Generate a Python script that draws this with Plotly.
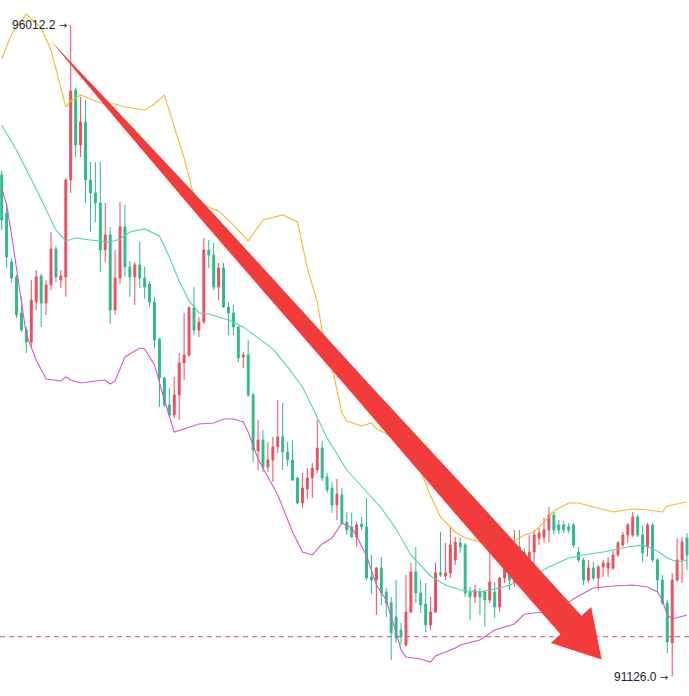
import plotly.graph_objects as go

W, H = 689, 696

# ---- candle data (price) ----
open_ = [
    94888, 94603, 94235, 94123, 93853, 93725, 93635, 93935, 94130, 93928,
    94063, 94333, 94100, 94123, 94850, 95525, 95113, 95285, 94850, 94753,
    94678, 94325, 94438, 93875, 94115, 94498, 94198, 94123, 94213, 94115,
    94070, 93935, 93658, 93365, 93163, 93088, 93238, 93478, 93538, 93890,
    93725, 93785, 94325, 94288, 94048, 94190, 93898, 93853, 93748, 93523,
    93538, 93238, 92818, 92900, 92698, 92750, 92848, 92923, 92810, 92750,
    92615, 92428, 92533, 92615, 92675, 92840, 92623, 92540, 92413, 92488,
    92285, 92248, 92173, 92270, 92248, 91873, 91850, 91940, 91760, 91678,
    91573, 91475, 91363, 91610, 91910, 91753, 91670, 91513, 91610, 91903,
    91880, 91903, 92000, 92128, 92113, 91760, 91723, 91760, 91760, 91700,
    91760, 91648, 91865, 91888, 91835, 92098, 92060, 91948, 92060, 92165,
    92173, 92225, 92338, 92263, 92263, 92248, 92263, 92060, 92000, 91850,
    91940, 91865, 91948, 91940, 91940, 92038, 92113, 92188, 92188, 92323,
    92188, 92098, 92263, 92000, 91850, 91678, 91378, 91850, 92000, 92165,
]
high = [
    94918, 94678, 94265, 94138, 93973, 93748, 94100, 94175, 94145, 94100,
    94460, 94355, 94175, 94865, 96012.2, 95540, 95473, 95450, 94985, 94985,
    94985, 94678, 94498, 94325, 94685, 94663, 94243, 94235, 94385, 94198,
    94093, 93973, 93665, 93373, 93290, 93373, 93553, 93853, 93905, 94048,
    93823, 94415, 94400, 94378, 94228, 94228, 93935, 93913, 93755, 93560,
    93650, 93253, 93050, 92975, 92885, 92923, 93200, 93178, 92885, 92900,
    92623, 92653, 92690, 92728, 93050, 92893, 92653, 92585, 92608, 92540,
    92360, 92353, 92285, 92323, 92465, 92038, 91948, 92023, 91790, 91723,
    91850, 91528, 91888, 91978, 92098, 91850, 91828, 91723, 91978, 92210,
    92128, 92248, 92173, 92173, 92128, 91798, 91813, 91790, 91775, 92053,
    91835, 91873, 92023, 91925, 92225, 92225, 92090, 92188, 92225, 92240,
    92315, 92398, 92360, 92300, 92293, 92278, 92278, 92098, 92015, 92000,
    91985, 91963, 92000, 92023, 92075, 92143, 92210, 92278, 92360, 92338,
    92263, 92278, 92278, 92015, 91888, 91700, 91903, 92165, 92173, 92203,
]
low = [
    94475, 94190, 94078, 93815, 93710, 93553, 93598, 93875, 93748, 93838,
    94025, 94085, 94040, 93973, 94753, 95023, 95023, 94678, 94460, 94535,
    94160, 94235, 93770, 93838, 94070, 94123, 93973, 93913, 94040, 93958,
    93898, 93590, 93148, 93148, 93073, 93065, 93050, 93350, 93523, 93688,
    93673, 93770, 94190, 94025, 93950, 93890, 93688, 93688, 93485, 93440,
    93223, 92735, 92675, 92660, 92660, 92585, 92803, 92675, 92705, 92593,
    92420, 92390, 92458, 92465, 92653, 92593, 92503, 92353, 92300, 92263,
    92188, 92165, 92098, 92225, 91850, 91745, 91588, 91663, 91573, 91250,
    91378, 91363, 91348, 91603, 91678, 91603, 91460, 91475, 91603, 91873,
    91850, 91865, 91963, 92053, 91723, 91550, 91678, 91588, 91498, 91678,
    91565, 91610, 91828, 91775, 91798, 91963, 92000, 91888, 91948, 92113,
    92128, 92135, 92188, 92195, 92203, 92203, 92090, 91985, 91813, 91828,
    91850, 91775, 91873, 91873, 91925, 92023, 92098, 92128, 92173, 92173,
    91985, 92023, 91985, 91760, 91663, 91303, 91126.0, 91835, 91828, 91925,
]
close = [
    94550, 94273, 94115, 93838, 93725, 93635, 93950, 94123, 93928, 94063,
    94333, 94123, 94130, 94850, 95518, 95113, 95285, 94850, 94753, 94678,
    94325, 94438, 93875, 94115, 94498, 94198, 94123, 94213, 94115, 94048,
    93935, 93650, 93365, 93163, 93088, 93238, 93478, 93538, 93890, 93725,
    93785, 94325, 94288, 94048, 94190, 93898, 93853, 93748, 93515, 93538,
    93238, 92825, 92900, 92698, 92750, 92848, 92923, 92810, 92750, 92600,
    92428, 92540, 92615, 92690, 92840, 92615, 92525, 92413, 92495, 92278,
    92225, 92173, 92263, 92248, 91865, 91850, 91940, 91753, 91678, 91453,
    91415, 91423, 91610, 91910, 91753, 91663, 91513, 91610, 91903, 91888,
    91903, 92113, 92135, 92098, 91753, 91723, 91775, 91723, 91700, 91835,
    91648, 91865, 91940, 91850, 92098, 92023, 92023, 92060, 92188, 92203,
    92225, 92338, 92225, 92225, 92225, 92225, 92113, 92000, 91850, 91940,
    91865, 91948, 91978, 91978, 92038, 92128, 92188, 92263, 92323, 92188,
    92053, 92263, 92000, 91850, 91678, 91385, 91850, 92000, 92135, 92038,
]
candle_idx = list(range(len(close)))

# ---- Bollinger band readings (candle index, price) ----
upper_idx = [0, 2, 5, 8, 10, 12, 13, 14, 16, 20, 23, 25, 29, 31, 33, 35, 37, 39, 41, 44,
             47, 50, 53, 57, 60, 62, 64, 65, 67, 69, 70, 73, 75, 76, 79, 82, 85, 87, 89, 92,
             94, 97, 101, 104, 106, 108, 110, 112, 115, 117, 120, 124, 128, 131, 134, 135, 139]
upper_val = [95758, 95945, 96095, 95990, 95825, 95525, 95398, 95443, 95488, 95428,
             95420, 95398, 95375, 95420, 95488, 95248, 95015, 94730, 94663, 94618,
             94513, 94393, 94550, 94588, 94535, 94190, 93935, 93725, 93448, 93103,
             93043, 93005, 93028, 92983, 92930, 92810, 92668, 92480, 92323, 92210,
             92165, 92135, 92128, 92143, 92188, 92210, 92285, 92368, 92428, 92428,
             92398, 92360, 92383, 92375, 92360, 92405, 92435]

mid_idx = [0, 3, 7, 11, 13, 15, 18, 22, 24, 26, 29, 32, 34, 36, 38, 40, 42, 44, 46, 49,
           52, 55, 58, 61, 63, 66, 70, 73, 77, 80, 83, 87, 90, 93, 97, 101, 103, 107, 111,
           115, 118, 122, 127, 130, 133, 135, 137, 139]
mid_val = [95263, 95075, 94783, 94475, 94393, 94415, 94400, 94385, 94408, 94460,
           94483, 94430, 94273, 94093, 93943, 93853, 93845, 93823, 93800, 93748,
           93665, 93583, 93448, 93298, 93148, 92915, 92675, 92555, 92390, 92233,
           92038, 91880, 91813, 91775, 91760, 91790, 91813, 91873, 91948, 92015,
           92038, 92060, 92098, 92113, 92068, 92015, 91985, 92000]

lower_idx = [0, 1, 2, 4, 5, 7, 9, 12, 13, 14, 16, 19, 21, 22, 23, 25, 28, 29, 31, 33,
             35, 37, 40, 43, 45, 47, 49, 50, 52, 56, 59, 61, 63, 65, 67, 69, 71, 72, 74, 76,
             78, 79, 80, 81, 82, 85, 87, 88, 92, 93, 97, 100, 102, 104, 106, 110, 114, 117,
             120, 124, 128, 131, 133, 134, 135, 136, 139]
lower_val = [94790, 94663, 94438, 93935, 93688, 93500, 93358, 93343, 93373, 93350,
             93328, 93343, 93350, 93320, 93343, 93523, 93590, 93583, 93463, 93200,
             92960, 92983, 93020, 93028, 93058, 93058, 93035, 92960, 92758, 92488,
             92210, 92060, 92038, 92120, 92165, 92278, 92240, 92180, 92030, 91813,
             91700, 91573, 91460, 91325, 91273, 91258, 91235, 91280, 91340, 91363,
             91400, 91475, 91498, 91520, 91595, 91610, 91663, 91730, 91790, 91805,
             91813, 91798, 91760, 91700, 91588, 91558, 91588]

current_price = 91425
hi_label = ("96012.2", 14, 96012.2)
lo_label = ("91126.0", 136, 91126.0)

RED = "#EC4E5D"
GREEN = "#2EBB8B"

fig = go.Figure()
fig.add_trace(go.Candlestick(
    x=candle_idx, open=open_, high=high, low=low, close=close,
    increasing=dict(line=dict(color=RED, width=1), fillcolor=RED),
    decreasing=dict(line=dict(color=GREEN, width=1), fillcolor=GREEN),
    whiskerwidth=0, hoverinfo="skip", showlegend=False,
))
for xs, ys, col in [(upper_idx, upper_val, "#F4BA2C"),
                    (mid_idx, mid_val, "#4FD3B1"),
                    (lower_idx, lower_val, "#D457C9")]:
    fig.add_trace(go.Scatter(x=xs, y=ys, mode="lines",
                             line=dict(color=col, width=1.1),
                             hoverinfo="skip", showlegend=False))


def P(px, py):
    return px / W, 1 - py / H


arrow_px = [(50, 40), (114.7, 108.2), (211.2, 211.2), (369.7, 384.7), (476.1, 499.7),
            (581.5, 615.7), (591.2, 607), (601.6, 659.4), (550.8, 643), (560.5, 634.3),
            (457.5, 516.3), (355.5, 397.3), (201.4, 219.8), (110.3, 112.2)]
path = "M " + " L ".join("%.5f,%.5f" % P(a, b) for a, b in arrow_px) + " Z"

ARROW_GLYPH = " <span style='font-family:DejaVu Sans;font-size:10px'>→</span>"

fig.update_layout(
    width=W, height=H, autosize=False,
    margin=dict(l=0, r=0, t=0, b=0),
    paper_bgcolor="white", plot_bgcolor="white",
    showlegend=False,
    boxgap=0.45,
    xaxis=dict(visible=False, range=[-0.345, 139.41], rangeslider=dict(visible=False),
               fixedrange=True),
    yaxis=dict(visible=False, range=[90980, 96200], fixedrange=True),
    shapes=[
        dict(type="line", xref="paper", x0=0, x1=1, yref="y",
             y0=current_price, y1=current_price,
             line=dict(color="#D94B66", width=1, dash="5px,4px"), layer="below"),
        dict(type="path", xref="paper", yref="paper", path=path,
             fillcolor="#F23B3B", line=dict(width=0), layer="above"),
    ],
    annotations=[
        dict(text=t + ARROW_GLYPH, x=xv, y=yv, xref="x", yref="y", showarrow=False,
             xanchor="right", yanchor="middle", xshift=-2,
             font=dict(family="Liberation Sans, Arial, sans-serif", size=12, color="#1E2329"))
        for t, xv, yv in [hi_label, lo_label]
    ],
)

fig.write_html("out.html", config={"displayModeBar": False},
               post_script="document.body.style.margin='0';document.body.style.overflow='hidden';")
